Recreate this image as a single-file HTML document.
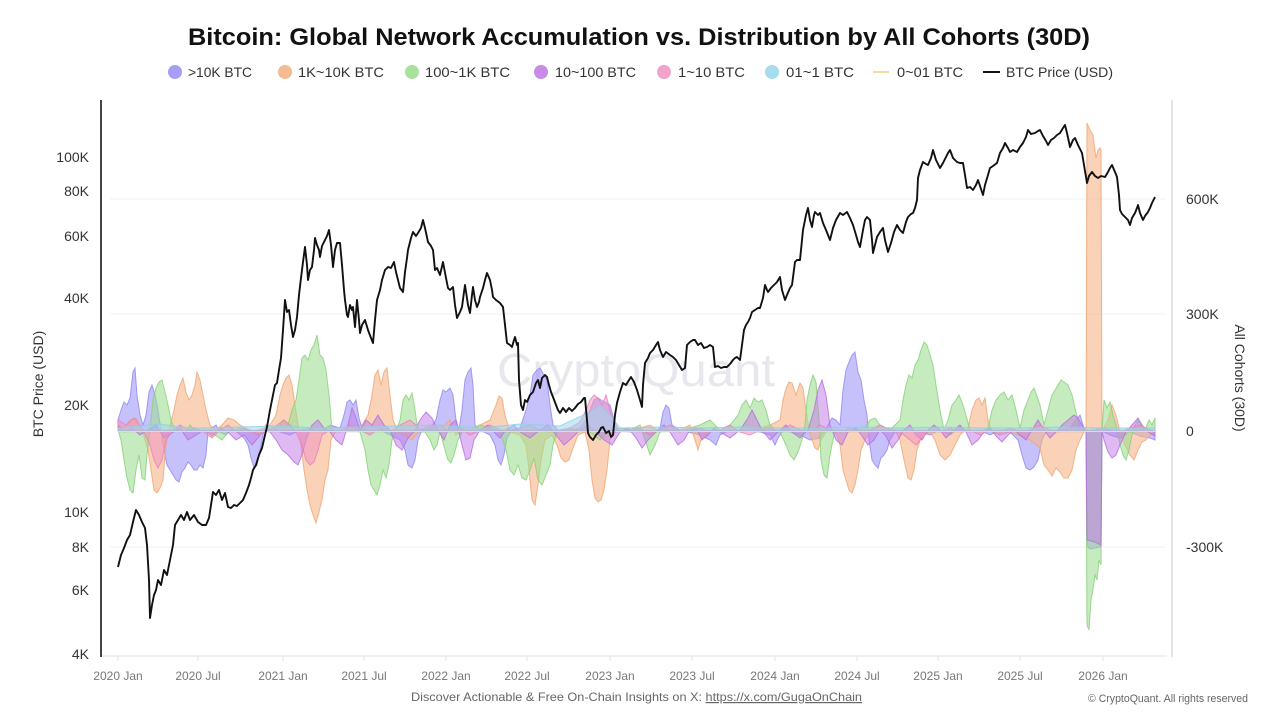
<!DOCTYPE html>
<html>
<head>
<meta charset="utf-8">
<style>
html,body{margin:0;padding:0;background:#fff;}
svg{display:block;font-family:"Liberation Sans",sans-serif;}
</style>
</head>
<body>
<svg width="1280" height="720" viewBox="0 0 1280 720" xmlns="http://www.w3.org/2000/svg">
<rect width="1280" height="720" fill="#fff"/>

<!-- Title -->
<text x="188" y="45" font-size="24" font-weight="bold" fill="#111" textLength="902" lengthAdjust="spacingAndGlyphs">Bitcoin: Global Network Accumulation vs. Distribution by All Cohorts (30D)</text>

<!-- Legend -->
<g font-size="14" fill="#333">
<circle cx="175" cy="72" r="7" fill="#a79ff7"/><text x="188" y="77" textLength="64" lengthAdjust="spacingAndGlyphs">&gt;10K BTC</text>
<circle cx="285" cy="72" r="7" fill="#f5bb92"/><text x="298" y="77" textLength="86" lengthAdjust="spacingAndGlyphs">1K~10K BTC</text>
<circle cx="412" cy="72" r="7" fill="#a9e29e"/><text x="425" y="77" textLength="85" lengthAdjust="spacingAndGlyphs">100~1K BTC</text>
<circle cx="541" cy="72" r="7" fill="#c98be8"/><text x="555" y="77" textLength="81" lengthAdjust="spacingAndGlyphs">10~100 BTC</text>
<circle cx="664" cy="72" r="7" fill="#f2a3cb"/><text x="678" y="77" textLength="67" lengthAdjust="spacingAndGlyphs">1~10 BTC</text>
<circle cx="772" cy="72" r="7" fill="#a6dcee"/><text x="786" y="77" textLength="68" lengthAdjust="spacingAndGlyphs">01~1 BTC</text>
<line x1="873" y1="72" x2="889" y2="72" stroke="#f0dea0" stroke-width="2"/><text x="897" y="77" textLength="66" lengthAdjust="spacingAndGlyphs">0~01 BTC</text>
<line x1="983" y1="72" x2="1000" y2="72" stroke="#111" stroke-width="2"/><text x="1006" y="77" textLength="107" lengthAdjust="spacingAndGlyphs">BTC Price (USD)</text>
</g>

<!-- Gridlines -->
<g stroke="#f1f1f3" stroke-width="1">
<line x1="110" y1="199" x2="1166" y2="199"/>
<line x1="110" y1="314" x2="1166" y2="314"/>
<line x1="110" y1="547" x2="1166" y2="547"/>
</g>

<!-- Watermark -->
<text x="497" y="386" font-size="46" fill="#e7e7ed" textLength="278" lengthAdjust="spacingAndGlyphs">CryptoQuant</text>

<!-- Axes -->
<line x1="101" y1="100" x2="101" y2="657" stroke="#444" stroke-width="2"/>
<line x1="1172" y1="100" x2="1172" y2="657" stroke="#dcdcdc" stroke-width="1.5"/>
<line x1="102" y1="656" x2="1167" y2="656" stroke="#e2e2e2" stroke-width="1"/>
<g stroke="#e2e2e2" stroke-width="1">
<line x1="118" y1="656" x2="118" y2="661"/><line x1="198" y1="656" x2="198" y2="661"/>
<line x1="283" y1="656" x2="283" y2="661"/><line x1="364" y1="656" x2="364" y2="661"/>
<line x1="446" y1="656" x2="446" y2="661"/><line x1="527" y1="656" x2="527" y2="661"/>
<line x1="610" y1="656" x2="610" y2="661"/><line x1="692" y1="656" x2="692" y2="661"/>
<line x1="775" y1="656" x2="775" y2="661"/><line x1="857" y1="656" x2="857" y2="661"/>
<line x1="938" y1="656" x2="938" y2="661"/><line x1="1020" y1="656" x2="1020" y2="661"/>
<line x1="1103" y1="656" x2="1103" y2="661"/>
</g>

<!-- Left ticks -->
<g font-size="14" fill="#333" text-anchor="end">
<text x="89" y="162">100K</text>
<text x="89" y="196">80K</text>
<text x="89" y="241">60K</text>
<text x="89" y="303">40K</text>
<text x="89" y="410">20K</text>
<text x="89" y="517">10K</text>
<text x="89" y="552">8K</text>
<text x="89" y="595">6K</text>
<text x="89" y="659">4K</text>
</g>
<text transform="translate(43,384) rotate(-90)" font-size="14" fill="#333" text-anchor="middle">BTC Price (USD)</text>

<!-- Right ticks -->
<g font-size="14" fill="#333">
<text x="1186" y="204">600K</text>
<text x="1186" y="319">300K</text>
<text x="1186" y="436">0</text>
<text x="1186" y="552">-300K</text>
</g>
<text transform="translate(1235,378) rotate(90)" font-size="14" fill="#333" text-anchor="middle">All Cohorts (30D)</text>

<!-- X labels -->
<g font-size="12" fill="#777" text-anchor="middle">
<text x="118" y="680">2020 Jan</text><text x="198" y="680">2020 Jul</text>
<text x="283" y="680">2021 Jan</text><text x="364" y="680">2021 Jul</text>
<text x="446" y="680">2022 Jan</text><text x="527" y="680">2022 Jul</text>
<text x="610" y="680">2023 Jan</text><text x="692" y="680">2023 Jul</text>
<text x="775" y="680">2024 Jan</text><text x="857" y="680">2024 Jul</text>
<text x="938" y="680">2025 Jan</text><text x="1020" y="680">2025 Jul</text>
<text x="1103" y="680">2026 Jan</text>
</g>

<!-- Footer -->
<text x="411" y="701" font-size="12" fill="#666" textLength="451" lengthAdjust="spacingAndGlyphs">Discover Actionable &amp; Free On-Chain Insights on X: <tspan text-decoration="underline">https://x.com/GugaOnChain</tspan></text>
<text x="1088" y="702" font-size="11" fill="#666" textLength="160" lengthAdjust="spacingAndGlyphs">© CryptoQuant. All rights reserved</text>

<!-- Series: >10K BTC -->
<path fill="#a098f6" fill-opacity="0.6" stroke="#8f86f0" stroke-opacity="0.8" stroke-width="1" d="M118,431 L118,420 121,410 124,402 127,405 130,398 133,372 135,368 137,395 140,415 143,425 146,415 149,392 152,385 155,395 158,410 161,430 164,450 167,465 170,470 173,475 176,480 179,482 182,472 185,468 188,462 191,465 194,470 197,470 200,465 203,468 206,455 208,432 212,428 216,425 220,432 226,435 232,428 238,433 244,438 248,445 251,458 254,468 257,465 260,450 263,435 266,425 270,430 275,428 280,432 290,435 300,430 310,428 320,432 330,425 340,428 344,415 347,402 350,400 353,405 356,400 359,418 362,428 370,432 380,430 390,435 400,440 405,450 408,465 412,468 415,460 418,440 422,430 430,428 436,420 440,400 443,390 446,392 450,388 453,395 456,420 459,430 462,410 465,380 468,372 471,368 473,385 475,425 480,430 490,435 495,445 498,460 501,465 504,455 507,438 512,430 520,428 526,410 530,395 533,375 537,370 540,368 544,375 547,380 550,405 553,425 560,432 570,430 580,428 586,420 590,410 594,400 598,398 604,402 610,405 614,420 618,430 630,432 640,430 650,435 660,428 663,412 666,405 669,408 672,425 680,430 700,435 710,440 716,445 720,435 730,430 760,432 770,435 775,445 778,438 785,428 790,432 800,435 810,440 820,438 828,425 832,418 836,420 840,425 843,390 846,370 849,362 852,355 855,352 858,372 861,380 864,400 867,415 869,440 872,460 875,465 878,468 881,458 884,455 887,450 890,440 895,432 910,430 920,432 930,435 940,430 950,435 960,428 970,432 980,430 990,435 1000,430 1010,432 1018,440 1022,455 1026,468 1030,470 1034,467 1038,460 1042,440 1046,432 1060,430 1070,428 1076,420 1080,415 1084,428 1086,431 1087,546 1090,549 1095,548 1100,547 1101,546 1102,431 1110,435 1120,438 1130,432 1140,436 1150,438 1155,440 L1155,431 Z"/>

<!-- Series: 1K~10K BTC -->
<path fill="#f5b68b" fill-opacity="0.62" stroke="#f0a470" stroke-opacity="0.8" stroke-width="1" d="M118,431 L118,425 124,428 130,420 136,418 142,430 148,450 151,470 154,490 157,493 160,488 163,480 166,445 170,425 174,410 177,395 180,385 183,378 186,392 189,400 192,395 195,385 197,372 200,380 203,395 206,410 210,425 216,430 222,425 228,418 234,420 240,425 246,428 252,432 258,430 264,428 270,425 276,415 280,395 283,385 286,378 289,375 292,385 295,405 298,425 301,445 304,470 307,490 310,505 313,515 316,523 319,512 322,500 325,480 328,470 331,440 335,432 345,430 355,428 362,425 368,415 372,395 375,375 378,370 381,385 384,372 387,368 390,395 393,420 398,432 405,435 412,440 420,430 430,425 440,430 450,420 456,435 462,428 470,430 480,425 490,420 496,405 499,396 502,398 505,415 510,432 520,435 526,445 529,470 532,500 535,505 538,485 541,460 545,440 552,435 557,445 561,458 565,462 569,460 573,448 578,435 585,432 589,450 592,480 595,498 598,502 601,500 604,490 607,470 610,440 615,432 625,430 640,428 650,425 660,432 670,428 680,430 690,425 695,440 698,450 701,440 710,430 720,432 730,428 740,432 750,430 760,428 770,425 780,420 783,400 786,388 789,382 792,383 796,395 800,383 803,388 806,410 809,430 812,440 815,448 818,450 821,440 826,432 835,430 840,445 843,470 846,480 849,490 852,493 855,485 858,470 861,450 865,440 870,432 880,430 890,428 895,430 900,440 904,460 908,478 911,480 914,470 917,450 922,435 930,432 935,440 940,455 945,460 950,455 955,445 960,435 968,428 972,410 976,400 979,398 982,405 985,398 988,420 992,432 1000,435 1010,432 1020,436 1030,440 1040,448 1044,465 1048,470 1052,476 1056,468 1060,472 1064,478 1068,478 1072,470 1076,450 1080,440 1084,432 1086,431 1087,123 1090,130 1093,135 1096,158 1098,150 1100,148 1101,150 1102,431 1108,420 1112,405 1116,415 1120,432 1125,445 1130,455 1134,460 1138,450 1142,442 1146,440 1150,435 1155,432 L1155,431 Z"/>

<!-- Series: 100~1K BTC -->
<path fill="#9fdd93" fill-opacity="0.6" stroke="#86d078" stroke-opacity="0.8" stroke-width="1" d="M118,431 L118,430 121,440 124,460 127,478 130,490 133,493 136,470 139,455 142,478 145,480 147,455 150,430 153,400 156,388 159,382 162,380 165,392 168,405 171,420 175,430 180,428 186,432 190,425 196,432 205,430 215,435 222,440 228,432 240,428 250,430 258,435 265,430 272,432 278,428 283,420 288,425 292,410 296,400 299,380 302,358 305,355 308,360 311,350 314,345 317,335 320,355 323,358 326,370 329,395 332,430 340,432 350,428 360,432 365,450 368,470 371,485 374,490 377,495 380,485 383,470 386,478 389,465 392,440 396,432 400,420 403,400 406,395 409,400 412,393 415,410 418,432 425,432 430,440 434,450 437,445 440,432 445,450 448,460 451,463 454,455 458,440 462,432 470,430 480,425 490,428 500,432 506,450 510,470 514,475 518,465 522,478 526,480 530,470 534,458 538,480 542,485 546,475 550,465 553,445 557,432 570,428 580,430 590,432 600,440 605,435 610,432 620,428 630,430 640,425 645,440 650,455 655,445 660,432 670,430 680,432 690,428 700,425 710,420 720,430 730,425 738,415 742,405 746,400 750,408 754,398 758,402 762,400 766,410 770,425 775,430 780,432 786,445 790,455 794,460 798,452 802,440 805,425 807,400 810,385 813,375 816,382 819,420 821,460 824,475 827,478 830,455 833,440 836,430 845,432 855,430 865,428 870,420 875,418 880,425 890,430 900,420 903,400 906,385 909,375 912,378 915,365 918,360 921,350 924,342 927,345 930,355 933,365 936,385 940,410 944,430 948,420 952,405 956,400 959,395 962,402 966,415 970,430 980,432 988,428 992,410 996,400 1000,395 1004,392 1008,400 1012,395 1016,410 1020,428 1024,410 1028,400 1031,392 1034,388 1037,396 1040,405 1044,425 1048,410 1052,395 1055,390 1058,385 1061,380 1064,382 1068,385 1072,395 1076,412 1080,428 1084,431 1086,431 1087,625 1089,630 1091,600 1093,590 1095,575 1097,580 1099,560 1101,565 1102,431 1104,400 1107,408 1110,402 1113,415 1116,425 1120,445 1123,455 1126,460 1129,450 1132,435 1135,425 1138,420 1141,425 1145,430 1149,420 1152,425 1155,418 L1155,431 Z"/>

<!-- Series: 10~100 BTC -->
<path fill="#c47fe6" fill-opacity="0.55" stroke="#b56cdf" stroke-opacity="0.8" stroke-width="1" d="M118,431 L118,425 125,432 132,428 140,435 148,430 156,425 164,438 172,433 180,428 188,440 196,435 204,430 212,436 220,428 228,432 236,440 244,435 252,445 258,438 264,430 270,432 276,440 282,450 288,455 294,462 298,465 302,455 306,440 312,425 318,420 324,428 330,432 336,440 342,445 348,425 352,408 355,415 360,430 366,420 372,425 378,415 384,425 390,430 396,445 402,450 408,438 414,432 420,420 426,412 432,418 438,430 444,440 450,425 456,420 462,445 466,460 470,458 474,440 480,430 488,425 494,432 500,438 506,430 514,425 520,432 530,438 540,430 548,425 556,435 564,445 572,438 580,430 588,425 596,432 604,440 612,445 620,432 628,428 636,438 642,448 648,440 656,432 664,425 670,432 678,445 684,440 690,430 696,428 702,440 708,435 714,428 720,432 730,438 740,430 748,418 752,410 756,418 762,430 770,440 778,432 786,425 792,432 800,438 808,430 814,410 818,390 822,380 826,395 830,425 836,440 842,445 848,432 856,428 862,436 868,445 874,440 880,430 886,436 892,448 898,440 904,430 910,425 916,435 922,440 928,430 934,425 940,430 946,438 952,432 960,425 966,432 972,445 978,440 984,432 990,428 996,436 1002,442 1008,435 1014,430 1020,435 1026,440 1032,430 1038,420 1044,430 1050,438 1056,432 1062,425 1068,420 1074,415 1078,418 1082,425 1086,431 1087,540 1095,542 1101,545 1102,431 1104,440 1108,452 1112,458 1116,455 1120,445 1126,432 1132,425 1138,418 1142,425 1148,432 1155,436 L1155,431 Z"/>

<!-- Series: 1~10 BTC -->
<path fill="#f093c3" fill-opacity="0.55" stroke="#ea7fb6" stroke-opacity="0.8" stroke-width="1" d="M118,431 L118,420 126,425 134,418 142,428 150,445 154,460 158,468 162,460 166,440 172,432 180,425 188,430 196,428 204,432 212,438 220,430 228,425 236,432 244,428 252,432 260,435 268,430 276,426 284,420 290,425 296,432 302,445 306,460 310,465 314,462 318,450 322,435 330,430 340,432 350,425 360,430 370,435 380,428 390,432 400,425 410,420 416,425 422,432 430,430 440,425 450,432 460,428 470,435 480,430 490,425 500,430 510,432 520,428 530,425 540,430 550,432 560,430 570,428 580,422 586,410 590,400 594,395 598,398 602,405 606,395 610,410 614,425 620,432 630,430 640,428 650,435 660,430 670,425 680,432 690,430 700,428 710,432 720,430 730,425 740,432 750,435 760,430 770,428 780,432 790,425 800,430 810,432 820,425 830,430 840,432 850,428 860,432 870,430 880,425 890,430 900,432 910,440 916,445 922,438 930,430 940,432 950,428 960,432 970,430 980,435 990,430 1000,432 1010,428 1020,432 1030,430 1040,425 1050,430 1060,432 1070,428 1080,430 1090,432 1100,428 1110,430 1120,432 1130,428 1140,425 1150,430 1155,432 L1155,431 Z"/>

<!-- Series: 01~1 BTC -->
<path fill="#9fd7ec" fill-opacity="0.55" stroke="#8ccde6" stroke-opacity="0.8" stroke-width="1" d="M118,431 L118,428 140,426 160,424 180,427 200,428 240,427 280,426 320,428 360,427 400,426 440,425 480,428 520,424 560,426 590,412 600,405 610,415 620,428 660,427 700,428 740,427 780,428 820,428 860,427 900,428 940,427 980,428 1020,428 1060,427 1100,428 1155,428 L1155,431 Z"/>

<!-- zero band -->
<line x1="118" y1="431" x2="1155" y2="431" stroke="#b9b4cc" stroke-width="2.5" stroke-opacity="0.7"/>
<line x1="118" y1="431.5" x2="1155" y2="431.5" stroke="#f0dea0" stroke-width="1"/>

<!-- BTC Price -->
<path fill="none" stroke="#111" stroke-width="1.9" stroke-linejoin="round" d="M118,567 L121,555 124,548 127,540 130,535 133,522 136,510 139,515 142,522 145,528 147,545 149,580 150,618 152,605 154,595 156,590 158,580 161,585 164,570 167,575 170,560 173,545 175,525 178,520 181,515 184,520 187,512 190,520 194,515 198,522 202,525 206,525 209,518 211,505 213,492 216,495 219,490 222,500 225,493 228,507 231,508 234,505 237,506 240,503 243,500 246,493 249,485 251,478 253,470 256,465 259,455 262,448 265,435 267,427 270,410 273,395 275,385 277,383 279,370 281,358 283,330 285,300 287,312 289,310 291,325 293,337 295,330 297,317 299,295 301,278 303,262 305,247 307,265 308,280 310,270 312,267 314,250 315,238 317,245 319,250 320,257 322,246 325,240 327,236 329,230 331,245 333,267 335,250 337,243 340,243 342,265 344,290 345,300 347,315 348,317 350,305 352,310 353,307 355,327 357,300 359,320 360,333 362,325 365,320 368,330 371,338 373,343 375,320 377,300 380,290 382,280 385,270 388,267 391,268 394,262 396,272 398,280 400,288 403,292 405,272 407,258 408,250 411,238 413,232 416,236 418,233 421,228 423,220 425,228 428,242 431,246 433,250 435,270 437,268 440,275 443,262 446,278 448,288 450,290 453,287 455,305 457,318 460,312 462,307 464,292 465,285 468,305 470,313 472,295 473,287 475,300 477,307 479,302 480,297 483,288 485,280 487,273 490,280 492,290 493,297 496,300 500,303 503,307 505,325 507,343 510,345 512,347 514,340 515,337 517,345 518,343 519,380 521,405 523,410 525,400 527,402 530,395 533,392 536,383 538,380 540,388 542,378 545,375 547,377 549,385 551,392 553,397 556,405 558,410 560,413 563,408 566,412 569,408 572,411 575,408 578,404 581,402 584,398 585,398 587,420 588,433 590,437 593,440 596,435 599,432 601,428 603,427 606,433 609,431 611,437 613,435 615,415 617,403 620,392 623,383 626,385 629,380 631,377 634,382 637,390 640,400 642,407 643,385 645,363 648,358 650,353 653,350 656,345 658,342 660,350 663,357 666,352 670,355 673,357 676,360 679,365 682,370 685,368 687,345 690,342 693,340 695,340 698,345 701,343 704,348 707,347 710,345 713,347 715,367 718,366 721,368 724,367 727,367 730,364 733,360 735,358 737,357 740,360 742,345 744,330 746,325 748,322 750,318 752,312 755,310 758,308 760,308 763,298 765,285 767,290 768,292 771,288 774,285 777,282 780,277 782,290 785,300 787,295 790,288 792,285 795,262 797,260 800,260 802,240 803,230 806,215 808,208 810,220 812,227 814,215 815,212 818,215 820,213 823,223 826,230 828,235 830,240 832,232 833,228 836,220 840,213 843,215 847,212 850,218 853,225 856,235 858,242 860,247 863,230 865,220 867,217 870,220 872,240 873,253 875,245 877,237 880,232 883,228 885,240 888,252 891,243 894,232 897,225 900,230 903,233 906,222 908,217 911,214 913,213 915,208 917,200 918,178 920,170 923,162 926,164 928,165 931,158 933,150 936,160 938,164 940,168 943,163 946,157 948,153 950,150 953,158 957,162 960,163 963,163 965,175 967,188 970,187 973,190 976,185 978,180 980,186 983,195 985,185 988,175 990,168 993,166 997,163 1000,153 1003,148 1005,143 1008,148 1010,152 1013,150 1017,152 1020,147 1023,143 1026,137 1028,130 1031,134 1035,133 1038,131 1040,130 1043,136 1046,141 1048,145 1051,140 1054,138 1057,135 1060,133 1063,128 1065,125 1067,133 1070,147 1073,140 1075,138 1078,145 1082,153 1084,165 1087,183 1089,176 1092,172 1095,176 1098,178 1101,176 1105,177 1108,172 1110,168 1112,165 1115,172 1117,177 1119,195 1120,210 1122,214 1125,217 1128,220 1130,225 1132,218 1135,213 1137,208 1138,205 1140,213 1143,220 1145,216 1148,212 1150,208 1152,203 1155,197"/>
</svg>
</body>
</html>
